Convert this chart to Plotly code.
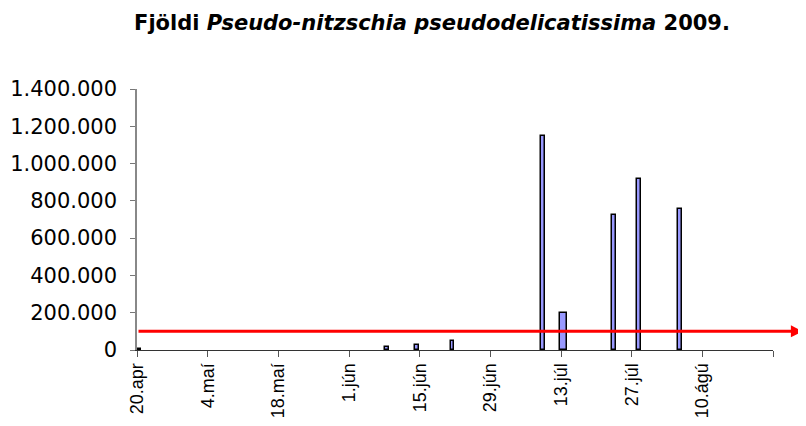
import plotly.graph_objects as go
import pandas as pd

# Data
dates = ["2009-04-20", "2009-06-08", "2009-06-14", "2009-06-21", "2009-07-09",
         "2009-07-13", "2009-07-23", "2009-07-28", "2009-08-05"]
counts = [5000, 15000, 25000, 48000, 1150000, 200000, 725000, 918000, 756000]
tick_dates = ["2009-04-20", "2009-05-04", "2009-05-18", "2009-06-01", "2009-06-15",
              "2009-06-29", "2009-07-13", "2009-07-27", "2009-08-10", "2009-08-24"]
tick_labels = ["20.apr", "4.maí", "18.maí", "1.jún", "15.jún", "29.jún",
               "13.júl", "27.júl", "10.ágú", ""]
threshold = 100000

DAY = 86400000
widths = [0.75 * DAY] * len(dates)
widths[dates.index("2009-07-13")] = 1.45 * DAY

# page has an 8px body margin, so the figure is sized/offset to compensate
W, H = 798, 418

fig = go.Figure()
fig.add_trace(go.Bar(
    x=dates, y=counts,
    xperiod=DAY, xperiodalignment="middle",
    width=widths,
    marker=dict(color="#9999FF", line=dict(color="black", width=1.5)),
    showlegend=False,
))

# red threshold line with arrow
fig.add_annotation(
    xref="x domain", yref="y", axref="x domain", ayref="y",
    x=1.047, y=threshold, ax=0, ay=threshold,
    showarrow=True, arrowhead=2, arrowsize=0.8, arrowwidth=3,
    arrowcolor="#FF0000", text="",
)

fig.update_layout(
    width=W, height=H,
    margin=dict(l=129, r=33, t=81, b=76),
    paper_bgcolor="white", plot_bgcolor="white",
    separators=",.",
    bargap=0,
    title=dict(
        text="Fjöldi <i>Pseudo-nitzschia pseudodelicatissima</i> 2009.",
        font=dict(family="DejaVu Sans", size=21, color="black", weight="bold"),
        xref="container", x=424/W, xanchor="center",
        yref="container", y=1 - 15/H, yanchor="middle",
    ),
    font=dict(family="Liberation Sans", color="black"),
)

fig.update_xaxes(
    type="date", automargin=False,
    range=[tick_dates[0], tick_dates[-1]],
    tickmode="array", tickvals=tick_dates, ticktext=tick_labels,
    tickangle=-90,
    tickfont=dict(family="Liberation Sans", size=18, color="black"),
    ticks="outside", ticklen=6, tickcolor="#555555", tickwidth=1,
    ticklabelstandoff=-1,
    showline=True, linecolor="#333333", linewidth=1,
    showgrid=False, zeroline=False,
)
fig.update_yaxes(
    automargin=False,
    range=[0, 1400000], dtick=200000, tickformat=",d",
    tickfont=dict(family="DejaVu Sans", size=21, color="black"),
    ticks="outside", ticklen=5, tickcolor="#777777", tickwidth=1,
    ticklabelstandoff=9,
    showline=True, linecolor="#888888", linewidth=1.5,
    showgrid=False, zeroline=False,
)

fig.write_html("out.html")
